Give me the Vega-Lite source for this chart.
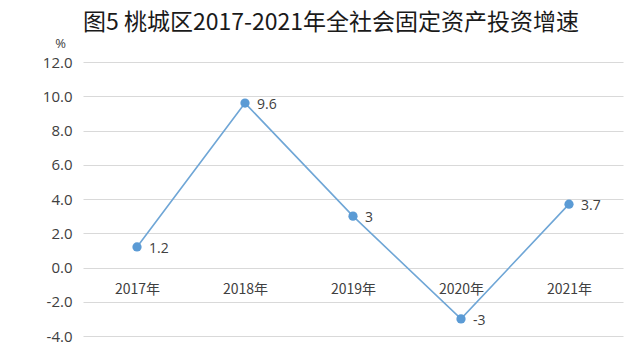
{
  "$schema": "https://vega.github.io/schema/vega-lite/v6.json",
  "width": 540,
  "height": 274,
  "autosize": {"type": "none"},
  "padding": {"left": 83, "top": 62, "right": 18, "bottom": 19},
  "background": "white",
  "title": {
    "text": "图5 桃城区2017-2021年全社会固定资产投资增速",
    "font": "Noto Sans CJK SC",
    "fontSize": 23,
    "fontWeight": "normal",
    "color": "#1a1a1a",
    "anchor": "middle",
    "frame": "group",
    "dx": -22,
    "offset": 2
  },
  "data": {
    "values": [
      {"year": "2017年", "value": 1.2, "label": "1.2"},
      {"year": "2018年", "value": 9.6, "label": "9.6"},
      {"year": "2019年", "value": 3, "label": "3"},
      {"year": "2020年", "value": -3, "label": "-3"},
      {"year": "2021年", "value": 3.7, "label": "3.7"}
    ]
  },
  "encoding": {
    "x": {
      "field": "year",
      "type": "ordinal",
      "sort": null,
      "scale": {"paddingInner": 0, "paddingOuter": 0},
      "axis": {
        "title": null,
        "labelAngle": 0,
        "domain": false,
        "ticks": false,
        "labelFont": "Noto Sans CJK SC",
        "labelFontSize": 14,
        "labelColor": "#404040",
        "labelPadding": 14,
        "offset": -68
      }
    },
    "y": {
      "field": "value",
      "type": "quantitative",
      "scale": {"domain": [-4, 12], "nice": false},
      "axis": {
        "values": [-4, -2, 0, 2, 4, 6, 8, 10, 12],
        "labelExpr": "replace(format(datum.value, '.1f'), '−', '-')",
        "title": "%",
        "titleAngle": 0,
        "titleX": -23,
        "titleY": -12,
        "titleFont": "Open Sans",
        "titleFontSize": 13,
        "titleFontWeight": "normal",
        "titleColor": "#404040",
        "domain": false,
        "ticks": false,
        "labelFont": "Open Sans",
        "labelFontSize": 15,
        "labelColor": "#404040",
        "labelPadding": 11,
        "gridColor": "#d9d9d9",
        "gridWidth": 1
      }
    }
  },
  "layer": [
    {
      "mark": {"type": "line", "color": "#6fa6d6", "strokeWidth": 1.6}
    },
    {
      "mark": {"type": "point", "filled": true, "color": "#5b9bd5", "size": 85, "opacity": 1}
    },
    {
      "mark": {"type": "text", "align": "left", "dx": 12, "dy": 2, "font": "Open Sans", "fontSize": 14, "color": "#404040"},
      "encoding": {"text": {"field": "label"}}
    }
  ],
  "config": {"view": {"stroke": null}}
}
